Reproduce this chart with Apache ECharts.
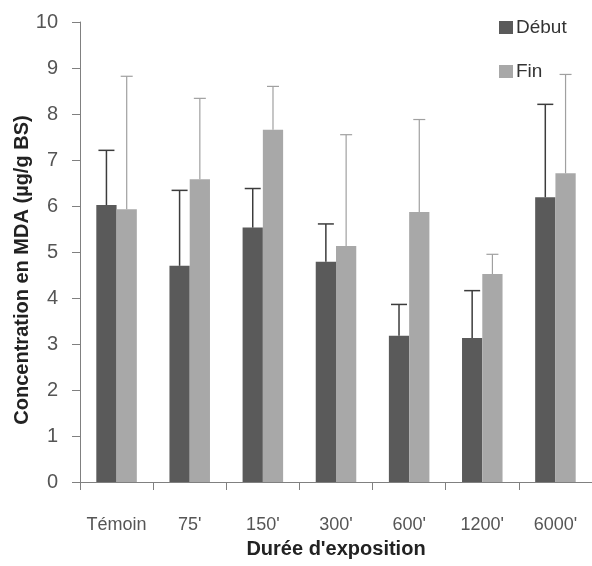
<!DOCTYPE html>
<html>
<head>
<meta charset="utf-8">
<script src="https://cdn.jsdelivr.net/npm/echarts@6/dist/echarts.min.js"></script>
<style>html,body{margin:0;padding:0;background:#fff;}#c{width:592px;height:566px;}</style>
</head>
<body>
<div id="c"></div>
<script>
var categories = ["Témoin", "75'", "150'", "300'", "600'", "1200'", "6000'"];
var debut = [6.02, 4.70, 5.53, 4.79, 3.18, 3.13, 6.19];
var debutUpper = [7.21, 6.34, 6.38, 5.61, 3.86, 4.16, 8.21];
var fin = [5.93, 6.58, 7.66, 5.13, 5.87, 4.52, 6.71];
var finUpper = [8.82, 8.34, 8.60, 7.55, 7.88, 4.95, 8.86];
var yTicks = [0, 1, 2, 3, 4, 5, 6, 7, 8, 9, 10];

var FONT = '"Liberation Sans", Arial, sans-serif';
var BAR_FRAC = 0.277;

function errSeries(vals, uppers, side, color, lw, cap) {
  var data = vals.map(function (v, i) { return [i, v, uppers[i]]; });
  return {
    type: 'custom',
    data: data,
    z: 5,
    silent: true,
    renderItem: function (params, api) {
      var i = api.value(0);
      var bw = api.size([1, 0])[0] * BAR_FRAC;
      var base = api.coord([i, api.value(1)]);
      var top = api.coord([i, api.value(2)]);
      var x = base[0] + side * bw / 2;
      return {
        type: 'group',
        children: [
          { type: 'line', shape: { x1: x, y1: base[1], x2: x, y2: top[1] }, style: { stroke: color, lineWidth: lw } },
          { type: 'line', shape: { x1: x - cap / 2, y1: top[1], x2: x + cap / 2, y2: top[1] }, style: { stroke: color, lineWidth: lw } }
        ]
      };
    }
  };
}

var chart = echarts.init(document.getElementById('c'));
chart.setOption({
  animation: false,
  backgroundColor: '#fff',
  grid: { left: 80, right: -6, top: 22, bottom: 84, containLabel: false },
  legend: {
    orient: 'vertical',
    left: 494, top: 13,
    itemWidth: 14, itemHeight: 13, itemGap: 25,
    icon: 'rect',
    textStyle: { fontFamily: FONT, fontSize: 19, color: '#333', padding: [0, 0, 0, -2] },
    data: ['Début', 'Fin']
  },
  xAxis: {
    type: 'category',
    data: categories,
    name: "Durée d'exposition",
    nameLocation: 'middle',
    nameGap: 57,
    nameTextStyle: { fontFamily: FONT, fontSize: 20, fontWeight: 'bold', color: '#222' },
    axisLine: { lineStyle: { color: '#808080', width: 1 } },
    axisTick: { show: true, length: 8, lineStyle: { color: '#808080' } },
    axisLabel: { interval: 0, fontFamily: FONT, fontSize: 18, color: '#555', margin: 34 }
  },
  yAxis: {
    type: 'value',
    min: 0, max: 10, interval: 1,
    axisLine: { show: true, lineStyle: { color: '#808080', width: 1 } },
    axisTick: { show: true, length: 8, lineStyle: { color: '#808080' } },
    axisLabel: {
      fontFamily: FONT, fontSize: 20, color: '#555', margin: 22,
      formatter: function (v) { return yTicks.indexOf(v) >= 0 ? String(v) : ''; }
    },
    splitLine: { show: false }
  },
  graphic: [{
    type: 'text',
    x: 22, y: 270,
    rotation: Math.PI / 2,
    style: {
      text: 'Concentration en MDA (µg/g BS)',
      font: 'bold 20px ' + FONT,
      fill: '#222',
      align: 'center',
      verticalAlign: 'middle'
    }
  }],
  series: [
    { name: 'Début', type: 'bar', data: debut, barWidth: (BAR_FRAC * 100) + '%', barGap: '0%', itemStyle: { color: '#5a5a5a' } },
    { name: 'Fin', type: 'bar', data: fin, barWidth: (BAR_FRAC * 100) + '%', barGap: '0%', itemStyle: { color: '#a8a8a8' } },
    errSeries(debut, debutUpper, -1, '#3c3c3c', 1.5, 16),
    errSeries(fin, finUpper, 1, '#a0a0a0', 1.2, 12)
  ]
});
</script>
</body>
</html>
